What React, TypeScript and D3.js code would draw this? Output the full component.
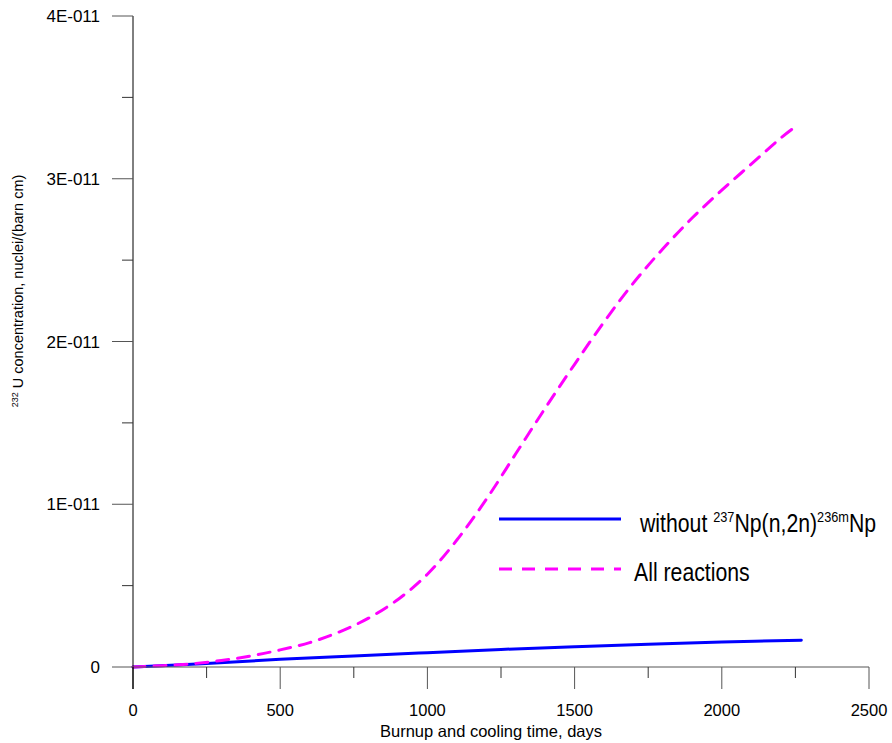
import React from 'react';
import * as d3 from 'd3';

// Burnup and cooling time (days) and 232U concentration (nuclei/(barn cm))
const allReactionsDays = [0, 100, 200, 300, 400, 500, 600, 700, 800, 900, 1000, 1100, 1200, 1300, 1400, 1500, 1600, 1700, 1800, 1900, 2000, 2100, 2200, 2250];
const allReactionsConc = [0, 0.008e-11, 0.02e-11, 0.04e-11, 0.068e-11, 0.105e-11, 0.15e-11, 0.215e-11, 0.3e-11, 0.415e-11, 0.57e-11, 0.78e-11, 1.03e-11, 1.31e-11, 1.59e-11, 1.86e-11, 2.12e-11, 2.36e-11, 2.57e-11, 2.76e-11, 2.93e-11, 3.09e-11, 3.25e-11, 3.32e-11];

const withoutNpDays = [0, 250, 500, 750, 1000, 1250, 1500, 1750, 2000, 2270];
const withoutNpConc = [0, 0.022e-11, 0.047e-11, 0.068e-11, 0.088e-11, 0.108e-11, 0.125e-11, 0.14e-11, 0.153e-11, 0.165e-11];

const xTicks = [0, 500, 1000, 1500, 2000, 2500];
const xMinorTicks = [250, 750, 1250, 1750, 2250];
const yTicks = [0, 1e-11, 2e-11, 3e-11, 4e-11];
const yTickLabels = ['0', '1E-011', '2E-011', '3E-011', '4E-011'];
const yMinorTicks = [0.5e-11, 1.5e-11, 2.5e-11, 3.5e-11];

const BLUE = '#0000ff';
const MAGENTA = '#ff00ff';
const FONT = "Arial, 'Liberation Sans', Helvetica, sans-serif";

export default function App() {
  const x = d3.scaleLinear().domain([0, 2500]).range([133, 869]);
  const y = d3.scaleLinear().domain([0, 4e-11]).range([667, 16]);

  const line = d3
    .line<[number, number]>()
    .x((d) => x(d[0]))
    .y((d) => y(d[1]))
    .curve(d3.curveCatmullRom.alpha(0.5));

  const allPts = allReactionsDays.map((d, i) => [d, allReactionsConc[i]] as [number, number]);
  const noNpPts = withoutNpDays.map((d, i) => [d, withoutNpConc[i]] as [number, number]);

  const x0 = x(0);
  const y0 = y(0);

  return (
    <svg
      width={892}
      height={743}
      style={{ position: 'absolute', left: 0, top: 0, background: '#fff' }}
      fontFamily={FONT}
    >
      <rect width={892} height={743} fill="#fff" />

      {/* data lines */}
      <path d={line(noNpPts) || ''} fill="none" stroke={BLUE} strokeWidth={3} strokeLinecap="round" />
      <path
        d={line(allPts) || ''}
        fill="none"
        stroke={MAGENTA}
        strokeWidth={3}
        strokeDasharray="12 9"
        strokeLinecap="round"
      />

      {/* y axis */}
      <line x1={x0} x2={x0} y1={y(4e-11)} y2={y0 + 22} stroke="#000" strokeWidth={1} />
      {yTicks.map((t, i) => (
        <g key={'yt' + i}>
          <line x1={x0 - 21} x2={x0} y1={y(t)} y2={y(t)} stroke="#555" strokeWidth={1} />
          <text x={100} y={y(t) + 6} fontSize={17} textAnchor="end" fill="#000">
            {yTickLabels[i]}
          </text>
        </g>
      ))}
      {yMinorTicks.map((t, i) => (
        <line key={'ym' + i} x1={x0 - 11} x2={x0} y1={y(t)} y2={y(t)} stroke="#333" strokeWidth={1} />
      ))}

      {/* x axis */}
      <line x1={x0} x2={x(2500)} y1={y0} y2={y0} stroke="#555" strokeWidth={1} />
      {xTicks.map((t, i) => (
        <g key={'xt' + i}>
          <line x1={x(t)} x2={x(t)} y1={y0} y2={y0 + 22} stroke={t === 0 ? '#000' : '#555'} strokeWidth={1} />
          <text x={x(t)} y={716} fontSize={16.5} textAnchor="middle" fill="#000">
            {t}
          </text>
        </g>
      ))}
      {xMinorTicks.map((t, i) => (
        <line key={'xm' + i} x1={x(t)} x2={x(t)} y1={y0} y2={y0 + 11} stroke="#333" strokeWidth={1} />
      ))}

      {/* axis titles */}
      <text x={491} y={737} fontSize={16.5} textAnchor="middle" fill="#000">
        Burnup and cooling time, days
      </text>
      <text transform="translate(23,291) rotate(-90)" fontSize={14.5} textAnchor="middle" fill="#000">
        <tspan fontSize={9} dy={-5}>232</tspan>
        <tspan dy={5}> U  concentration, nuclei/(barn cm)</tspan>
      </text>

      {/* legend */}
      <line x1={499} x2={621} y1={519} y2={519} stroke={BLUE} strokeWidth={3} />
      <line x1={499} x2={621} y1={569} y2={569} stroke={MAGENTA} strokeWidth={3} strokeDasharray="13 10" />
      <g transform="translate(640,532) scale(0.85,1)">
        <text x={0} y={0} fontSize={25} fill="#000">
          without <tspan fontSize={15} dy={-10}>237</tspan>
          <tspan dy={10}>Np(n,2n)</tspan>
          <tspan fontSize={15} dy={-10}>236m</tspan>
          <tspan dy={10}>Np</tspan>
        </text>
      </g>
      <g transform="translate(634,581) scale(0.85,1)">
        <text x={0} y={0} fontSize={25} fill="#000">
          All reactions
        </text>
      </g>
    </svg>
  );
}
